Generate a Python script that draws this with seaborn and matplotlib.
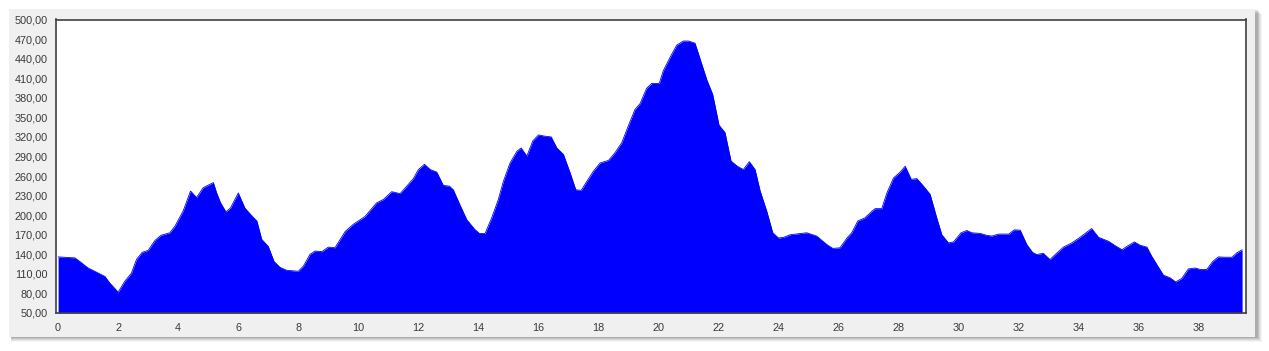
import matplotlib
matplotlib.use("Agg")
import matplotlib.pyplot as plt
from matplotlib.patches import Rectangle
from matplotlib.ticker import FuncFormatter
import seaborn as sns
import pandas as pd

km = [0.0, 0.56, 0.72, 1.0, 1.22, 1.39, 1.56, 1.72, 2.0, 2.22, 2.44, 2.61, 2.8, 3.0,
      3.22, 3.42, 3.72, 3.89, 4.17, 4.41, 4.61, 4.83, 5.17, 5.28, 5.41, 5.59, 5.74,
      6.0, 6.22, 6.45, 6.62, 6.78, 7.0, 7.19, 7.39, 7.61, 8.0, 8.17, 8.39, 8.56, 8.78,
      9.0, 9.22, 9.56, 9.83, 10.22, 10.61, 10.83, 11.11, 11.39, 11.61, 11.83, 12.0,
      12.2, 12.39, 12.61, 12.83, 13.03, 13.16, 13.38, 13.61, 13.88, 14.03, 14.22,
      14.44, 14.66, 14.83, 15.05, 15.28, 15.42, 15.61, 15.81, 16.0, 16.22, 16.42,
      16.61, 16.83, 17.05, 17.24, 17.42, 17.61, 17.83, 18.05, 18.33, 18.55, 18.77,
      18.99, 19.21, 19.38, 19.6, 19.77, 20.02, 20.15, 20.38, 20.6, 20.82, 20.99,
      21.21, 21.38, 21.6, 21.8, 22.01, 22.21, 22.41, 22.62, 22.82, 23.02, 23.21,
      23.38, 23.6, 23.8, 23.99, 24.16, 24.38, 24.93, 25.26, 25.6, 25.8, 26.04,
      26.27, 26.43, 26.63, 26.87, 27.1, 27.21, 27.43, 27.6, 27.82, 28.04, 28.21,
      28.41, 28.6, 28.82, 29.04, 29.26, 29.43, 29.65, 29.82, 30.07, 30.26, 30.43,
      30.71, 30.93, 31.1, 31.32, 31.66, 31.84, 32.04, 32.26, 32.45, 32.59, 32.81,
      33.03, 33.23, 33.48, 33.76, 34.03, 34.26, 34.42, 34.65, 34.98, 35.21, 35.43,
      35.59, 35.84, 36.03, 36.26, 36.42, 36.62, 36.81, 37.03, 37.22, 37.42, 37.64,
      37.86, 38.05, 38.25, 38.45, 38.64, 38.86, 39.09, 39.25, 39.43]
elev = [136, 134.5, 129, 119, 114, 110, 106, 96, 82, 98.6, 111, 132, 143, 146,
        161, 169, 173, 183, 207, 237, 227, 242, 250, 234, 219, 205, 211,
        234, 211, 199, 191, 163, 152, 129, 120, 115.5, 114, 122, 140, 145, 144,
        151, 150, 175, 186, 198, 219, 224, 236, 233, 244.5, 256, 270,
        278, 270, 266, 245.6, 244.5, 239, 216, 193, 178, 172, 172,
        196, 224, 252, 280, 298, 303, 290.6, 314, 323, 321, 320,
        303, 293, 265, 239, 238, 252, 267.6, 280, 284, 296, 311,
        337, 362, 371, 394.6, 402, 402, 421, 442, 460.6, 467, 467,
        463.7, 439.6, 408, 385, 338, 326.5, 283, 275, 270, 282, 270,
        237, 206, 173, 165, 166, 170, 173, 168, 155, 149, 150,
        165, 173, 191, 196, 206, 210, 210, 234, 257, 266, 275,
        255, 256, 244.5, 232, 196, 170, 157.5, 159, 173, 176.5, 173,
        172, 169, 168, 171, 171, 177.5, 177, 155, 143, 139.6, 141.6,
        132, 140.6, 151, 157.5, 166, 174, 179.5, 166, 160, 153, 147,
        152, 159, 154, 151, 137, 122, 108, 104, 97.6, 103, 117.6,
        119, 116.6, 116.6, 129, 136, 135.5, 135.5, 142, 147]

y_ticks = list(range(50, 501, 30))
x_ticks = list(range(0, 39, 2))

df = pd.DataFrame({"km": km, "elev": elev})

sns.set_style("white")
plt.rcParams["font.family"] = ["Liberation Sans", "DejaVu Sans"]

fig = plt.figure(figsize=(12.69, 3.51), dpi=100)
fig.patch.set_facecolor("white")

W, H = 1269.0, 351.0
# drop shadow
for i, a in enumerate([0.04, 0.05, 0.07, 0.09, 0.11]):
    off = 5 - i
    fig.patches.append(Rectangle(((9 + 2) / W, (H - 337 - off) / H),
                                 (1246 + off) / W, 328 / H,
                                 transform=fig.transFigure, facecolor="black",
                                 alpha=a, edgecolor="none", zorder=-10))
fig.patches.append(Rectangle((9 / W, (H - 337) / H), 1246 / W, 328 / H,
                             transform=fig.transFigure, facecolor="#f0f0f0",
                             edgecolor="none", zorder=-5))

ax = fig.add_axes([56 / W, (H - 313) / H, (1246 - 56) / W, (313 - 19.5) / H])
ax.set_zorder(5)
ax.set_facecolor("white")

sns.lineplot(data=df, x="km", y="elev", ax=ax, color="#0000ff", linewidth=0.6)
ax.fill_between(df["km"], df["elev"], 50, color="#0000ff", linewidth=0)

ax.set_xlim(-0.07, 39.56)
ax.set_ylim(50, 500)
ax.set_xticks(x_ticks)
ax.set_yticks(y_ticks)
ax.yaxis.set_major_formatter(FuncFormatter(lambda v, p: f"{v:.2f}".replace(".", ",")))
ax.set_xlabel("")
ax.set_ylabel("")

for s in ax.spines.values():
    s.set_color("#404040")
    s.set_linewidth(1.2)
    s.set_visible(True)

ax.tick_params(axis="both", direction="out", length=4, width=1, color="#404040",
               labelsize=7.8, labelcolor="#3a3a3a")
ax.tick_params(axis="y", pad=2)
ax.tick_params(axis="x", pad=3)

fig.savefig("out.png", dpi=100, facecolor=fig.get_facecolor())
